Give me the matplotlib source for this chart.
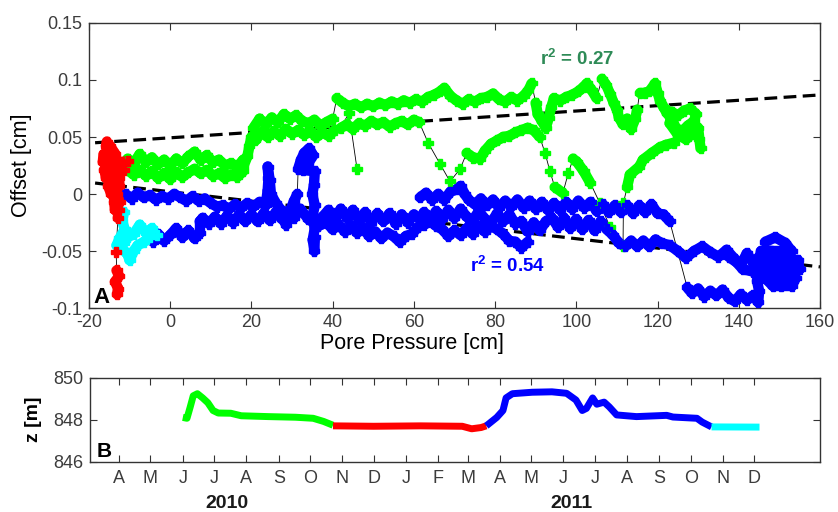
import numpy as np
import matplotlib
matplotlib.use('Agg')
import matplotlib.pyplot as plt
from matplotlib.collections import LineCollection

plt.rcParams['font.family'] = ['Liberation Sans', 'DejaVu Sans']
plt.rcParams['axes.unicode_minus'] = False
plt.rcParams['mathtext.default'] = 'regular'

# ---- panel A: offset vs pore pressure, one list of strands per season ----
# each strand is a run of (pore pressure [cm], offset [cm]) samples
green_strands = [
    [(-10.5, 0.031), (-9, 0.027), (-7.5, 0.035), (-6, 0.028), (-4.5, 0.032), (-3, 0.026),
     (-1.5, 0.03), (0, 0.025), (1.5, 0.031), (3, 0.027), (4.5, 0.033), (6, 0.037),
     (7.5, 0.03), (9, 0.034), (10.5, 0.028), (12, 0.03), (13.5, 0.025), (15, 0.027),
     (16.5, 0.024), (18, 0.03),
     (18, 0.02), (16.5, 0.015), (15, 0.017), (13.5, 0.014), (12, 0.018), (10.5, 0.016),
     (9, 0.021), (7.5, 0.018), (6, 0.022), (4.5, 0.019), (3, 0.015), (1.5, 0.019),
     (0, 0.013), (-1.5, 0.018), (-3, 0.014), (-4.5, 0.02), (-6, 0.016), (-7.5, 0.021),
     (-9, 0.017), (-10.5, 0.021)],
    [(18, 0.024), (19, 0.033), (19.5, 0.042), (20, 0.05), (21, 0.047), (22.5, 0.054),
     (24, 0.05), (25.5, 0.055), (27, 0.051), (28.5, 0.057), (30, 0.053), (31.5, 0.056),
     (33, 0.052), (34.5, 0.055), (36, 0.05), (37.5, 0.054), (39, 0.051), (40.5, 0.056)],
    [(20.5, 0.058), (22, 0.066), (23.5, 0.061), (25, 0.067), (26.5, 0.063), (28, 0.07),
     (29.5, 0.066), (31, 0.069), (32.5, 0.064), (34, 0.062), (35.5, 0.065), (37, 0.06),
     (38.5, 0.063), (40, 0.066),
     (41, 0.084), (42.5, 0.08), (44, 0.077), (45.5, 0.079), (47, 0.076), (48.5, 0.079),
     (50, 0.077), (51.5, 0.08), (53, 0.078), (54.5, 0.081), (56, 0.079), (57.5, 0.082),
     (59, 0.08), (60.5, 0.083), (62, 0.081), (63.5, 0.085), (65, 0.087), (66.5, 0.09),
     (67.5, 0.093), (69, 0.086), (70.5, 0.082), (72, 0.079), (73.5, 0.083), (75, 0.081),
     (76.5, 0.084), (78, 0.085), (79.5, 0.088), (81, 0.083), (82.5, 0.081), (84, 0.085),
     (85.5, 0.082), (87, 0.086), (88.2, 0.091), (89, 0.097), (90, 0.08), (90.5, 0.07),
     (91.5, 0.064), (92.5, 0.058), (93.2, 0.067), (93.8, 0.076), (94.5, 0.084), (96, 0.082),
     (97.5, 0.085), (99, 0.087), (100.5, 0.09), (101.8, 0.094), (102.6, 0.097),
     (103.8, 0.091), (105, 0.084), (106.3, 0.101), (107.3, 0.096), (108.3, 0.088),
     (109.2, 0.08), (110, 0.074), (110.5, 0.067), (111.5, 0.061), (112.5, 0.066),
     (113.5, 0.057), (114.5, 0.066), (115, 0.074), (115.6, 0.089), (117, 0.089),
     (118, 0.09), (119.4, 0.097), (120, 0.089), (120.6, 0.082), (121.5, 0.076),
     (122.3, 0.071), (123.5, 0.066), (124.5, 0.058), (126, 0.055), (127.5, 0.06),
     (129, 0.064), (129.5, 0.07), (128, 0.075), (126.5, 0.073), (125, 0.069), (123.5, 0.072),
     (123, 0.062), (125, 0.052), (127, 0.048), (128.5, 0.053), (130, 0.058), (130.3, 0.048),
     (130.6, 0.04)],
    [(124, 0.045), (122, 0.043), (120.6, 0.041), (118.6, 0.036), (116.4, 0.03),
     (115.5, 0.024), (113.2, 0.017), (112.5, 0.006), (111.6, -0.008), (111.5, -0.046),
     (108.3, -0.029), (105.8, -0.008), (103.4, 0.01), (101.8, 0.02), (100.2, 0.028),
     (99.2, 0.031), (98, 0.018), (96.7, 0.001), (94.7, 0.006), (93.5, 0.02), (92.3, 0.036),
     (91, 0.05), (89.5, 0.056), (88, 0.058), (86.5, 0.056), (85, 0.054), (83.5, 0.051),
     (82, 0.05), (80.5, 0.047), (79, 0.044), (77.5, 0.038), (76.3, 0.031), (74.6, 0.032),
     (73, 0.036), (71.4, 0.022), (68.9, 0.011), (66.5, 0.026), (63.5, 0.045), (61.3, 0.063),
     (60, 0.065), (58.5, 0.061), (57, 0.064), (55.5, 0.062), (54, 0.059), (52.5, 0.063),
     (51, 0.061), (49.5, 0.064), (48, 0.06), (46.5, 0.062), (45, 0.057), (43.5, 0.061),
     (42, 0.058), (44, 0.071), (46, 0.022)],
]

red_strands = [
    [(-15.6, 0.046), (-15.8, 0.042), (-14.8, 0.042), (-13.5, 0.035), (-15, 0.035),
     (-16.4, 0.035), (-16.6, 0.028), (-15, 0.028), (-13.3, 0.028), (-11.8, 0.028),
     (-10.3, 0.029), (-11.5, 0.021), (-13, 0.021), (-14.6, 0.021), (-16.2, 0.021),
     (-15.8, 0.014), (-14.2, 0.014), (-12.6, 0.014), (-12.5, 0.007), (-14, 0.007),
     (-15.3, 0.007), (-14.5, 0.0), (-13, 0.0), (-12.4, -0.007), (-13.8, -0.007),
     (-13.6, -0.014), (-12.5, -0.014), (-12.9, -0.021),
     (-13.3, -0.051), (-13.2, -0.067), (-12.6, -0.072), (-13.6, -0.077), (-12.8, -0.083),
     (-13.1, -0.088)],
]

blue_strands = [
    [(-11, 0.0), (-9.5, -0.004), (-8, 0.001), (-6.5, -0.003), (-5, -0.001), (-3.5, -0.005),
     (-2, -0.002), (-0.5, -0.004), (1, 0.0), (2.5, -0.003), (4, -0.006), (5.5, -0.002),
     (7, -0.006), (8.5, -0.004), (10, -0.008), (11.5, -0.011), (13, -0.01), (14.5, -0.013),
     (16, -0.009), (17.5, -0.012), (19, -0.008), (20.5, -0.011), (22, -0.007),
     (23.5, -0.01), (24, 0.003), (24.2, 0.014), (24, 0.024), (24.5, 0.012), (24.8, 0.0),
     (26, -0.008), (27.5, -0.015), (28.5, -0.027), (29.5, -0.015), (30.5, -0.006),
     (31.3, 0.0), (31.5, 0.022), (32.2, 0.03), (33, 0.036), (34.2, 0.04), (35.2, 0.034),
     (34, 0.027), (32.8, 0.021), (35.6, 0.02), (35.4, 0.008), (35, 0.0), (35.6, -0.01),
     (35, -0.02), (35.6, -0.03), (35.1, -0.04), (35.5, -0.05), (35.6, -0.038),
     (36.2, -0.025), (37.5, -0.02), (39, -0.014), (40.5, -0.022), (42, -0.013),
     (43.5, -0.021), (45, -0.014), (46.5, -0.023), (48, -0.016), (49.5, -0.025),
     (51, -0.017), (52.5, -0.024), (54, -0.017), (55.5, -0.026), (57, -0.018),
     (58.5, -0.025), (60, -0.018), (61.5, -0.022), (62.5, -0.016), (64, -0.023),
     (65.5, -0.015), (67, -0.022), (68.5, -0.014), (70, -0.021), (71.5, -0.013),
     (73, -0.02), (74.5, -0.023), (76, -0.015), (77.5, -0.022), (79, -0.025),
     (80.5, -0.017), (82, -0.024), (83.5, -0.018), (85, -0.026), (86.5, -0.024),
     (88, -0.033), (89.5, -0.025), (91, -0.032), (92.5, -0.024), (94, -0.021),
     (95.5, -0.029), (97, -0.021), (98.5, -0.03), (100, -0.022), (101.5, -0.031),
     (103, -0.023), (104.5, -0.032), (106, -0.024), (107.5, -0.031), (109, -0.036),
     (110.5, -0.043), (112, -0.046), (113.5, -0.041), (115, -0.046), (116.5, -0.041),
     (118, -0.046), (119.5, -0.04), (121, -0.043), (123, -0.045), (125, -0.05),
     (127, -0.056), (129, -0.05), (131, -0.046), (133, -0.051), (135, -0.055),
     (137, -0.049), (139, -0.057), (140.5, -0.062), (142, -0.052), (143.5, -0.06),
     (145, -0.055),
     (146.5, -0.042), (149, -0.038), (151.5, -0.043),
     (153, -0.05), (150.5, -0.05), (148, -0.05), (145.5, -0.05),
     (145, -0.058), (147.5, -0.058), (150, -0.058), (152.5, -0.058), (154.5, -0.058),
     (155, -0.066), (152.5, -0.066), (150, -0.066), (147.5, -0.066), (145, -0.066),
     (146.5, -0.074), (149, -0.074), (151.5, -0.074), (154, -0.074),
     (153, -0.081), (150.5, -0.081), (148.5, -0.081),
     (146, -0.072), (143.5, -0.068), (141, -0.066), (139.5, -0.06), (137.5, -0.055)],
    [(61.5, -0.003), (63, 0.001), (64.5, -0.005), (66, 0.0), (67.5, -0.005), (69, 0.002),
     (70.5, 0.004), (71.5, 0.007), (72.5, 0.0), (73.5, -0.005), (75, -0.009),
     (76.5, -0.004), (78, -0.01), (79.5, -0.005), (81, -0.012), (82.5, -0.006),
     (84, -0.011), (85.5, -0.005), (87, -0.012), (88.5, -0.006), (90, -0.013),
     (91.5, -0.007), (93, -0.014), (94.5, -0.008), (96, -0.014), (97.5, -0.007),
     (99, -0.013), (100.5, -0.006), (102, -0.012), (103.5, -0.007), (105, -0.015),
     (106.5, -0.009), (108, -0.016), (109.5, -0.01), (111, -0.016), (112.5, -0.01),
     (114, -0.017), (115.5, -0.01), (117, -0.016), (118.5, -0.009), (120, -0.017),
     (121.5, -0.018), (123, -0.024), (127.3, -0.082), (128.5, -0.087), (130, -0.083),
     (131.5, -0.09), (133, -0.085), (134.5, -0.089), (136, -0.084), (137.5, -0.091),
     (139, -0.094), (140.5, -0.088), (142, -0.093), (143.5, -0.089), (144.8, -0.095),
     (145, -0.085), (144.5, -0.076), (145, -0.068), (143.5, -0.06)],
    [(88, -0.042), (86.5, -0.047), (85, -0.042), (83.5, -0.041), (82, -0.035),
     (80.5, -0.031), (79, -0.028), (77.5, -0.033), (76, -0.028), (74.5, -0.035),
     (73, -0.03), (71.5, -0.036), (70, -0.032), (68.5, -0.037), (67, -0.031),
     (65.5, -0.028), (64, -0.024), (62.5, -0.027), (61, -0.029), (59.5, -0.035),
     (58, -0.037), (56.5, -0.042), (55, -0.037), (53.5, -0.034), (52, -0.039),
     (50.5, -0.033), (49, -0.037), (47.5, -0.03), (46, -0.034), (44.5, -0.028),
     (43, -0.033), (41.5, -0.027), (40, -0.031), (38.5, -0.025), (36.5, -0.028),
     (34, -0.022), (32, -0.013), (30.5, -0.021), (29, -0.015), (27.5, -0.022), (26, -0.016),
     (24.5, -0.023), (23, -0.017), (21.5, -0.024), (20, -0.018), (18.5, -0.024),
     (17, -0.018), (15.5, -0.025), (14, -0.019), (12.5, -0.026), (11, -0.02),
     (9.5, -0.026), (8, -0.021), (7.3, -0.024), (7.3, -0.034), (6, -0.039), (4.5, -0.032),
     (3, -0.038), (1.5, -0.03), (0, -0.036), (-1.5, -0.041), (-3, -0.035), (-4.2, -0.042)],
]

cyan_strands = [
    [(-11.4, -0.016), (-11.8, -0.024), (-11.2, -0.031), (-12.5, -0.039), (-13.2, -0.045),
     (-11.5, -0.049), (-10.5, -0.053), (-10, -0.058), (-9, -0.05), (-8, -0.045),
     (-6.5, -0.042), (-5, -0.038), (-3.3, -0.036), (-4.5, -0.03), (-6, -0.034),
     (-7.5, -0.027), (-9, -0.035), (-10.5, -0.038), (-11.5, -0.043)],
]

# linear fits (intercept at 0 cm, slope per cm) and their r^2
green_fit = (0.0493, 0.000235)
blue_fit = (0.0020, -0.000412)
fit_span = (-18.5, 160)
green_r2 = 0.27
blue_r2 = 0.54

# ---- panel B: elevation z [m] through time, same colour per season ----
z_green_dates = ['2010-06-01', '2010-06-05', '2010-06-08', '2010-06-11', '2010-06-15',
                 '2010-06-20', '2010-06-25', '2010-06-30', '2010-07-05', '2010-07-17',
                 '2010-07-27', '2010-08-22', '2010-09-17', '2010-10-04', '2010-10-14',
                 '2010-10-23']
z_green = [848.12, 848.08, 848.6, 849.15, 849.25, 849.05, 848.82, 848.45, 848.33, 848.32,
           848.2, 848.16, 848.13, 848.08, 847.93, 847.75]
z_red_dates = ['2010-10-23', '2010-12-01', '2011-01-15', '2011-02-24', '2011-03-05',
               '2011-03-14', '2011-03-19']
z_red = [847.72, 847.7, 847.72, 847.7, 847.58, 847.64, 847.72]
z_blue_dates = ['2011-03-19', '2011-03-23', '2011-03-29', '2011-04-04', '2011-04-07',
                '2011-04-13', '2011-05-02', '2011-05-21', '2011-06-04', '2011-06-13',
                '2011-06-19', '2011-06-23', '2011-06-29', '2011-07-03', '2011-07-10',
                '2011-07-15', '2011-07-22', '2011-08-10', '2011-09-08', '2011-09-14',
                '2011-10-07', '2011-10-12', '2011-10-21']
z_blue = [847.72, 847.88, 848.12, 848.45, 849.05, 849.25, 849.32, 849.34, 849.27, 848.95,
          848.45, 848.55, 849.05, 848.75, 848.85, 848.62, 848.24, 848.16, 848.22, 848.14,
          848.08, 847.9, 847.67]
z_cyan_dates = ['2011-10-21', '2011-12-06']
z_cyan = [847.67, 847.66]

month_ticks = ['2010-04-01', '2010-05-01', '2010-06-01', '2010-07-01', '2010-08-01',
               '2010-09-01', '2010-10-01', '2010-11-01', '2010-12-01', '2011-01-01',
               '2011-02-01', '2011-03-01', '2011-04-01', '2011-05-01', '2011-06-01',
               '2011-07-01', '2011-08-01', '2011-09-01', '2011-10-01', '2011-11-01',
               '2011-12-01']
month_letters = list('AMJJASONDJFMAMJJASOND')
date_span = ('2010-03-04', '2012-02-02')

GREEN, RED, BLUE, CYAN = '#00ff00', '#ff0000', '#0000ff', '#00ffff'
INK = '#333333'


def days(d):
    return np.array(d, dtype='datetime64[D]').astype(float)


def draw_strands(ax, strands, color):
    # thin black connector, wide coloured band where samples are close together,
    # and a marker on every sample
    for strand in strands:
        xy = np.array(strand, dtype=float)
        ax.plot(xy[:, 0], xy[:, 1], color='k', lw=0.6, zorder=2)
        pix = ax.transData.transform(xy)
        step = np.hypot(*np.diff(pix, axis=0).T)
        segs = [xy[i:i + 2] for i in np.flatnonzero(step < 15)]
        ax.add_collection(LineCollection(segs, colors=color, linewidths=7.5,
                                         capstyle='round', joinstyle='round', zorder=3))
        ax.plot(xy[:, 0], xy[:, 1], ls='none', marker='P', ms=6.5, color=color, zorder=4)


def style_axes(ax):
    for s in ax.spines.values():
        s.set_color(INK)
        s.set_linewidth(1.0)
    ax.tick_params(direction='in', top=True, right=True, length=5, width=0.8,
                   labelsize=13, labelcolor='#3c3c3c', color=INK)


fig = plt.figure(figsize=(8.38, 5.12), dpi=100)
ax1 = fig.add_axes([0.1062, 0.3984, 0.8723, 0.5567])
ax2 = fig.add_axes([0.1074, 0.0977, 0.8711, 0.1641])

ax1.set_xlim(-20, 160)
ax1.set_ylim(-0.1, 0.15)
style_axes(ax1)
ax1.tick_params(axis='x', pad=4)
ax1.tick_params(axis='y', pad=5)
ax1.set_xticks(np.arange(-20, 161, 20))
ax1.set_yticks([-0.1, -0.05, 0, 0.05, 0.1, 0.15])
ax1.set_yticklabels(['-0.1', '-0.05', '0', '0.05', '0.1', '0.15'])

draw_strands(ax1, green_strands, GREEN)
draw_strands(ax1, blue_strands, BLUE)
draw_strands(ax1, cyan_strands, CYAN)
draw_strands(ax1, red_strands, RED)

xs = np.array(fit_span)
for b, m in (green_fit, blue_fit):
    ax1.plot(xs, b + m * xs, color='k', lw=2.3, ls=(0, (4, 2)), zorder=2.5)

ax1.text(91.1, 0.113, r'$r^{2}$' + ' = {:.2f}'.format(green_r2), color='#2e8b57',
         fontsize=13.5, fontweight='bold', va='baseline')
ax1.text(73.8, -0.0684, r'$r^{2}$' + ' = {:.2f}'.format(blue_r2), color=BLUE,
         fontsize=13.5, fontweight='bold', va='baseline')
ax1.text(0.0055, 0.018, 'A', transform=ax1.transAxes, fontsize=16, fontweight='bold',
         va='baseline')

fig.text(22 / 838, 1 - 165 / 512, 'Offset [cm]', rotation=90, fontsize=15.5,
         ha='center', va='center')
fig.text(412 / 838, 1 - 344 / 512, 'Pore Pressure [cm]', fontsize=15.5,
         ha='center', va='center')

# panel B
for d, z, c in ((z_green_dates, z_green, GREEN), (z_red_dates, z_red, RED),
                (z_blue_dates, z_blue, BLUE), (z_cyan_dates, z_cyan, CYAN)):
    ax2.plot(days(d), z, color=c, lw=5, solid_capstyle='butt')

ax2.set_xlim(*days(list(date_span)))
ax2.set_ylim(846, 850)
style_axes(ax2)
ax2.tick_params(axis='x', pad=6)
ax2.tick_params(axis='y', pad=5)
ax2.set_yticks([846, 848, 850])
ax2.set_xticks(days(month_ticks))
ax2.set_xticklabels(month_letters)
ax2.text(0.0096, 0.06, 'B', transform=ax2.transAxes, fontsize=15, fontweight='bold',
         va='baseline')

fig.text(33 / 838, 1 - 419 / 512, 'z [m]', rotation=90, fontsize=14, fontweight='bold',
         ha='center', va='center')
fig.text(227 / 838, 1 - 503 / 512, '2010', fontsize=14, fontweight='bold',
         color='#1a1a1a', ha='center', va='center')
fig.text(571 / 838, 1 - 503 / 512, '2011', fontsize=14, fontweight='bold',
         color='#1a1a1a', ha='center', va='center')

fig.savefig('out.png', dpi=100)
